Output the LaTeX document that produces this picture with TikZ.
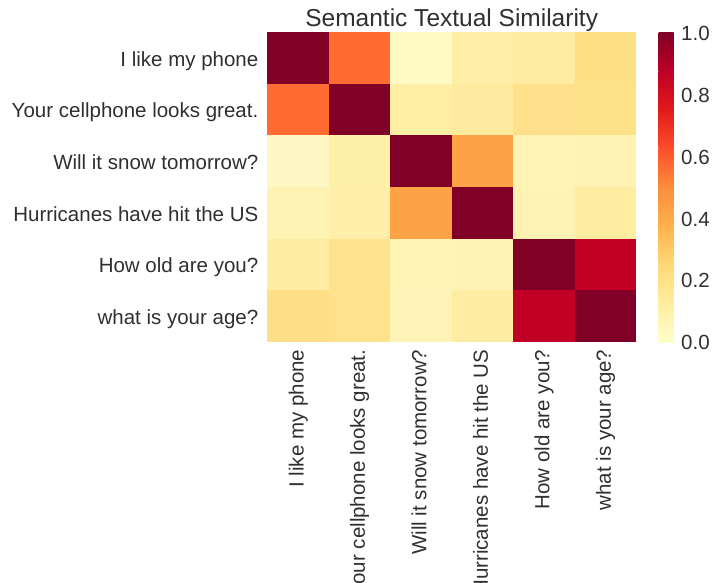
\documentclass[tikz,border=0pt]{standalone}
\usepackage{fontspec}
\setmainfont{Liberation Sans}
\definecolor{txt}{HTML}{303030}
\definecolor{s0}{HTML}{FFFFCC}
\definecolor{s1}{HTML}{FFEDA0}
\definecolor{s2}{HTML}{FED976}
\definecolor{s3}{HTML}{FEB24C}
\definecolor{s4}{HTML}{FD8D3C}
\definecolor{s5}{HTML}{FC4E2A}
\definecolor{s6}{HTML}{E31A1C}
\definecolor{s7}{HTML}{BD0026}
\definecolor{s8}{HTML}{800026}
\begin{document}
\begin{tikzpicture}[x=1pt,y=-1pt,
  lbl/.style={inner sep=0pt, text=txt, font=\fontsize{20.5}{24}\selectfont},
  ttl/.style={inner sep=0pt, text=txt, font=\fontsize{24.5}{28}\selectfont},
]
\useasboundingbox (0,0) rectangle (714,582);
\clip (0,0) rectangle (714,582);
\fill[white] (0,0) rectangle (714,582);
\def\xa{267.3}\def\cw{61.45}\def\ya{32.3}\def\ch{51.57}
% heatmap cells
\foreach \c [count=\i from 0] in {
  800026,FE6C31,FFF9C3,FFEFA6,FFEBA2,FEE187,
  FE6C31,800026,FFEFA5,FEEBA0,FEE18A,FEE28A,
  FFF8C4,FFF0A8,800026,FEA345,FFF4B4,FFF3B3,
  FFF3B4,FFEFA8,FEA345,800026,FFF2B2,FFEDA2,
  FFEDA3,FEE28E,FFF4B6,FFF3B4,800026,C20025,
  FEDF88,FEE28E,FFF4B7,FFEDA4,C20025,800026}{
  \pgfmathtruncatemacro{\rr}{int(\i/6)}
  \pgfmathtruncatemacro{\cc}{mod(\i,6)}
  \definecolor{cellc}{HTML}{\c}
  \fill[cellc] ({\xa+\cc*\cw},{\ya+\rr*\ch}) rectangle ({\xa+(\cc+1)*\cw+0.3},{\ya+(\rr+1)*\ch+0.3});
}
% title
\node[ttl, anchor=base] (title) at (451.7,26) {Semantic Textual Similarity};
% row labels
\foreach \t [count=\i from 0] in {I like my phone,Your cellphone looks great.,Will it snow tomorrow?,Hurricanes have hit the US,How old are you?,what is your age?}{
  \node[lbl, anchor=base east] (yl\i) at (258.5,{\ya+(\i+0.5)*\ch+8.3}) {\t};
  \node[lbl, anchor=base east, rotate=90] (xl\i) at ({\xa+(\i+0.5)*\cw+5.5},349.5) {\t};
}
% colorbar
\def\cbx{658.7}\def\cbw{15}\def\cby{341.7}\def\cbh{309}
\foreach \k [evaluate=\k as \kn using int(\k+1)] in {0,...,7}{
  \shade[bottom color=s\k, top color=s\kn]
    (\cbx,{\cby-\k*\cbh/8+0.3}) rectangle ({\cbx+\cbw},{\cby-(\k+1)*\cbh/8-0.3});
}
\foreach \v/\l [count=\i from 0] in {0/0.0,0.2/0.2,0.4/0.4,0.6/0.6,0.8/0.8,1/1.0}{
  \node[lbl, anchor=base west] (cb\i) at (681,{\cby-\v*\cbh+8}) {\l};
}
\end{tikzpicture}
\end{document}
